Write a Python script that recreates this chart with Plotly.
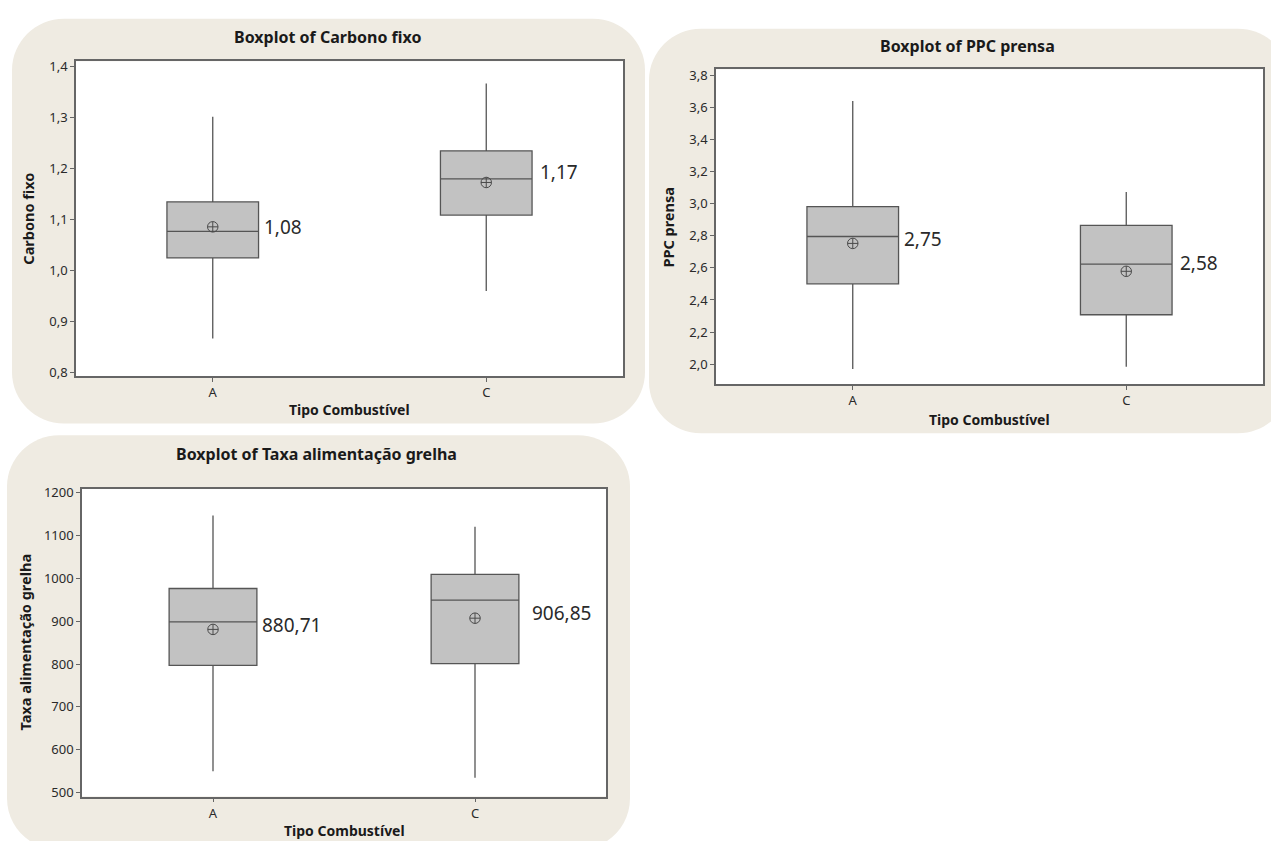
import plotly.graph_objects as go

W, H = 1271, 841

# ---------------- data ----------------
categories = ["A", "C"]

# Carbono fixo
cf_q1 = [1.024, 1.108]
cf_median = [1.076, 1.179]
cf_q3 = [1.134, 1.234]
cf_low = [0.866, 0.959]
cf_high = [1.301, 1.366]
cf_mean = [1.085, 1.172]
cf_labels = ["1,08", "1,17"]

# PPC prensa
ppc_q1 = [2.501, 2.308]
ppc_median = [2.796, 2.624]
ppc_q3 = [2.983, 2.866]
ppc_low = [1.969, 1.984]
ppc_high = [3.642, 3.073]
ppc_mean = [2.753, 2.579]
ppc_labels = ["2,75", "2,58"]

# Taxa alimentação grelha
tx_q1 = [797, 801]
tx_median = [898, 949]
tx_q3 = [976, 1009]
tx_low = [550, 535]
tx_high = [1146, 1120]
tx_mean = [880.71, 906.85]
tx_labels = ["880,71", "906,85"]

# ---------------- helpers ----------------
def px(x):
    return x / W

def py(y):
    return 1 - y / H

def rounded_path(x0, y0, x1, y1, r):
    # pixel coords (y downwards) -> paper path
    k = 0.55
    def P(x, y):
        return f"{px(x):.5f},{py(y):.5f}"
    d = f"M {P(x0 + r, y0)} L {P(x1 - r, y0)} "
    d += f"C {P(x1 - r + k*r, y0)} {P(x1, y0 + r - k*r)} {P(x1, y0 + r)} "
    d += f"L {P(x1, y1 - r)} "
    d += f"C {P(x1, y1 - r + k*r)} {P(x1 - r + k*r, y1)} {P(x1 - r, y1)} "
    d += f"L {P(x0 + r, y1)} "
    d += f"C {P(x0 + r - k*r, y1)} {P(x0, y1 - r + k*r)} {P(x0, y1 - r)} "
    d += f"L {P(x0, y0 + r)} "
    d += f"C {P(x0, y0 + r - k*r)} {P(x0 + r - k*r, y0)} {P(x0 + r, y0)} Z"
    return d

FONT = "Noto Sans"
BG = "#EFEBE2"
LINE = "#555555"
TXT = "#2a2a2a"

panels = [
    dict(frame=(76, 56, 623, 375), bg=(12, 13, 645, 423), yr=[0.7923, 1.4097], dtick=0.1, fmt=".1f",
         q1=cf_q1, med=cf_median, q3=cf_q3, lo=cf_low, hi=cf_high, mean=cf_mean, labels=cf_labels,
         label_y=[1.085, 1.193], label_dx=[0.18, 0.19],
         title="Boxplot of Carbono fixo", title_xy=(327, 31), ytitle="Carbono fixo", ytitle_x=28,
         xtitle_y=409),
    dict(frame=(716, 64, 1263, 383), bg=(649, 23, 1290, 433), yr=[1.876, 3.84], dtick=0.2, fmt=".1f",
         q1=ppc_q1, med=ppc_median, q3=ppc_q3, lo=ppc_low, hi=ppc_high, mean=ppc_mean, labels=ppc_labels,
         label_y=[2.78, 2.63], label_dx=[0.18, 0.19],
         title="Boxplot of PPC prensa", title_xy=(967, 41), ytitle="PPC prensa", ytitle_x=668,
         xtitle_y=419),
    dict(frame=(82, 489, 606, 801), bg=(7, 435, 630, 855), yr=[491, 1209], dtick=100, fmt="d",
         q1=tx_q1, med=tx_median, q3=tx_q3, lo=tx_low, hi=tx_high, mean=tx_mean, labels=tx_labels,
         label_y=[891, 919], label_dx=[0.18, 0.21],
         title="Boxplot of Taxa alimentação grelha", title_xy=(316, 454), ytitle="Taxa alimentação grelha",
         ytitle_x=25, xtitle_y=835),
]

fig = go.Figure()
shapes = []
annotations = []
layout_axes = {}

# backgrounds first, then white plot areas on top of them
for p in panels:
    shapes.append(dict(type="path", path=rounded_path(*p["bg"], 52), xref="paper", yref="paper",
                       fillcolor=BG, line=dict(width=0), layer="below"))
for p in panels:
    x0, y0, x1, y1 = p["frame"]
    shapes.append(dict(type="rect", x0=px(x0), x1=px(x1), y0=py(y1), y1=py(y0), xref="paper",
                       yref="paper", fillcolor="white", line=dict(width=0), layer="below"))

for i, p in enumerate(panels):
    n = i + 1
    xa = "x" if n == 1 else f"x{n}"
    ya = "y" if n == 1 else f"y{n}"
    x0, y0, x1, y1 = p["frame"]

    fig.add_trace(go.Box(
        x=categories, q1=p["q1"], median=p["med"], q3=p["q3"],
        lowerfence=p["lo"], upperfence=p["hi"],
        width=0.335, whiskerwidth=0, boxpoints=False,
        fillcolor="#C2C2C2", line=dict(color=LINE, width=1.3),
        xaxis=xa, yaxis=ya, showlegend=False, hoverinfo="skip"))
    fig.add_trace(go.Scatter(
        x=categories, y=p["mean"], mode="markers",
        marker=dict(symbol="circle-cross-open", size=10.5, color="#4a4a4a", line=dict(width=1)),
        xaxis=xa, yaxis=ya, showlegend=False, hoverinfo="skip"))

    for j, (lab, ly, dx) in enumerate(zip(p["labels"], p["label_y"], p["label_dx"])):
        annotations.append(dict(x=j + dx, y=ly, xref=xa, yref=ya, text=lab, showarrow=False,
                                xanchor="left", yanchor="middle",
                                font=dict(family=FONT, size=19, color=TXT)))

    key = "" if n == 1 else str(n)
    layout_axes[f"xaxis{key}"] = dict(
        domain=[px(x0), px(x1)], anchor=ya, type="category", range=[-0.5, 1.5],
        showline=True, mirror=True, linecolor="#666666", linewidth=1.5,
        ticks="outside", ticklen=4, tickcolor="#666666", showgrid=False, zeroline=False,
        tickfont=dict(family=FONT, size=13, color=TXT), fixedrange=True)
    layout_axes[f"yaxis{key}"] = dict(
        domain=[py(y1), py(y0)], anchor=xa, range=p["yr"], dtick=p["dtick"], tick0=0,
        tickformat=p["fmt"],
        showline=True, mirror=True, linecolor="#666666", linewidth=1.5,
        ticks="outside", ticklen=4, tickcolor="#666666", showgrid=False, zeroline=False,
        tickfont=dict(family=FONT, size=13, color=TXT), fixedrange=True)

    # titles
    annotations.append(dict(x=px(p["title_xy"][0]), y=py(p["title_xy"][1]), xref="paper", yref="paper",
                            text=f"<b>{p['title']}</b>", showarrow=False, xanchor="center", yanchor="middle",
                            font=dict(family=FONT, size=16, color="#1a1a1a")))
    annotations.append(dict(x=px((x0 + x1) / 2), y=py(p["xtitle_y"]), xref="paper", yref="paper",
                            text="<b>Tipo Combustível</b>", showarrow=False, xanchor="center",
                            yanchor="middle", font=dict(family=FONT, size=14, color="#1a1a1a")))
    annotations.append(dict(x=px(p["ytitle_x"]), y=py((y0 + y1) / 2), xref="paper", yref="paper",
                            text=f"<b>{p['ytitle']}</b>", showarrow=False, textangle=-90,
                            xanchor="center", yanchor="middle",
                            font=dict(family=FONT, size=14.5, color="#1a1a1a")))

fig.update_layout(
    width=W, height=H, margin=dict(l=0, r=0, t=0, b=0),
    paper_bgcolor="white", plot_bgcolor="white",
    separators=",.", shapes=shapes, annotations=annotations,
    showlegend=False, **layout_axes)

fig.write_html("out.html", config={"displayModeBar": False})
